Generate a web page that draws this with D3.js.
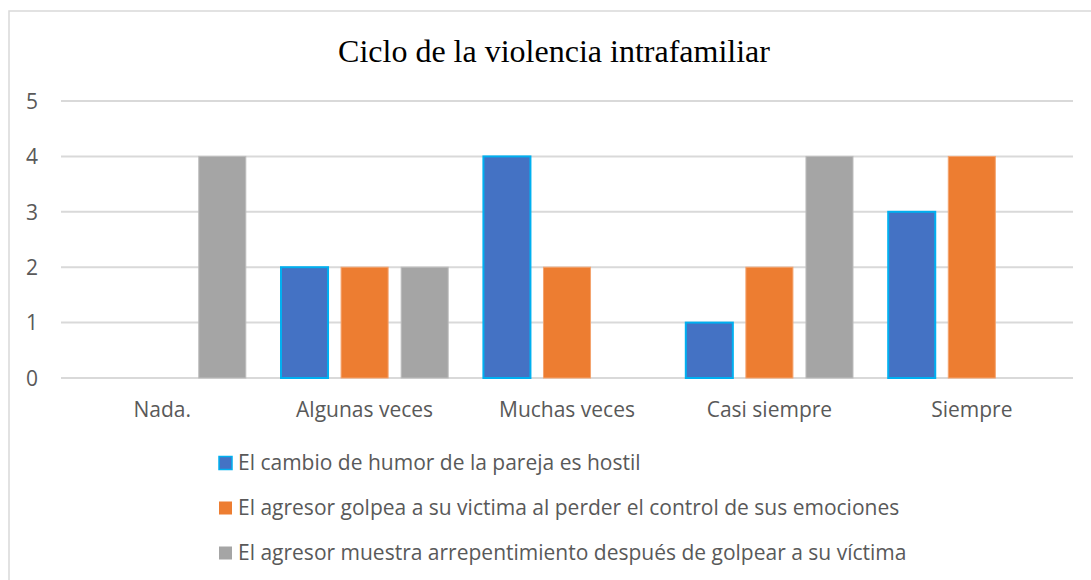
<!DOCTYPE html>
<html lang="es">
<head>
<meta charset="UTF-8">
<title>Ciclo de la violencia intrafamiliar</title>
<style>
    body { margin: 0; background: #fff; }
    .grid line { stroke: #d9d9d9; stroke-width: 2px; }
    .tick text, .cat-label, .legend text {
        font-family: "Open Sans", sans-serif;
        font-size: 21px;
        fill: #595959;
    }
    .title {
        font-family: "Liberation Serif", "Times New Roman", serif;
        font-size: 32px;
        fill: #000;
    }
</style>
<script src="https://d3js.org/d3.v7.min.js"></script>
</head>
<body>
<svg width="1091" height="580"></svg>
<script>
    const categories = ['Nada.', 'Algunas veces', 'Muchas veces', 'Casi siempre', 'Siempre'];
    const seriesNames = [
        'El cambio de humor de la pareja es hostil',
        'El agresor golpea a su victima al perder el control de sus emociones',
        'El agresor muestra arrepentimiento después de golpear a su víctima'
    ];
    const humor = [0, 2, 4, 1, 3];
    const golpea = [0, 2, 2, 2, 4];
    const arrepentimiento = [4, 2, 0, 4, 0];
    const yTicks = [0, 1, 2, 3, 4, 5];

    const seriesValues = [humor, golpea, arrepentimiento];
    const colors = ['#4472c4', '#ed7d31', '#a5a5a5'];
    const strokes = ['#00b0f0', '#f4a46f', '#bdbdbd'];

    const svg = d3.select('svg');

    // marco del gráfico
    svg.append('rect')
        .attr('x', 9).attr('y', 11)
        .attr('width', 1100).attr('height', 600)
        .attr('fill', 'none')
        .attr('stroke', '#d9d9d9')
        .attr('stroke-width', 1.5);

    svg.append('text')
        .attr('class', 'title')
        .attr('x', 554).attr('y', 62)
        .attr('text-anchor', 'middle')
        .text('Ciclo de la violencia intrafamiliar');

    const x0 = d3.scaleBand().domain(categories).range([61, 1073]);
    const x1 = d3.scaleBand().domain(d3.range(3))
        .range([0, x0.bandwidth()])
        .paddingInner(0.217).paddingOuter(0.293);
    const y = d3.scaleLinear().domain([0, 5]).range([378, 101]);

    // líneas de cuadrícula
    svg.append('g').attr('class', 'grid')
        .selectAll('line')
        .data(yTicks)
        .join('line')
        .attr('x1', 61).attr('x2', 1073)
        .attr('y1', d => y(d)).attr('y2', d => y(d));

    // eje y
    const yAxis = svg.append('g')
        .attr('transform', 'translate(32,0)')
        .call(d3.axisLeft(y).tickValues(yTicks).tickFormat(d3.format('d')).tickSize(0).tickPadding(0));
    yAxis.select('.domain').remove();
    yAxis.selectAll('text')
        .attr('x', 0).attr('dy', '0.35em')
        .attr('text-anchor', 'middle');
    yAxis.attr('font-size', null).attr('font-family', null);

    // barras
    const rows = [];
    categories.forEach((c, i) => {
        seriesValues.forEach((vals, s) => {
            if (vals[i] > 0) rows.push({ cat: c, s: s, v: vals[i] });
        });
    });

    svg.append('g').selectAll('rect')
        .data(rows)
        .join('rect')
        .attr('x', d => x0(d.cat) + x1(d.s))
        .attr('y', d => y(d.v))
        .attr('width', x1.bandwidth())
        .attr('height', d => y(0) - y(d.v))
        .attr('fill', d => colors[d.s])
        .attr('stroke', d => strokes[d.s])
        .attr('stroke-width', d => d.s === 0 ? 2 : 1);

    // etiquetas de categoría
    svg.append('g').selectAll('text')
        .data(categories)
        .join('text')
        .attr('class', 'cat-label')
        .attr('x', d => x0(d) + x0.bandwidth() / 2)
        .attr('y', 417)
        .attr('text-anchor', 'middle')
        .text(d => d);

    // leyenda
    const legend = svg.append('g').attr('class', 'legend')
        .selectAll('g')
        .data(seriesNames)
        .join('g')
        .attr('transform', (d, i) => `translate(218,${463 + i * 45})`);

    legend.append('rect')
        .attr('x', 1).attr('y', -6.5)
        .attr('width', 13).attr('height', 13)
        .attr('fill', (d, i) => colors[i])
        .attr('stroke', (d, i) => i === 0 ? strokes[0] : 'none')
        .attr('stroke-width', 1.5);

    legend.append('text')
        .attr('x', 20).attr('y', 0)
        .attr('dy', '0.35em')
        .text(d => d);
</script>
</body>
</html>
